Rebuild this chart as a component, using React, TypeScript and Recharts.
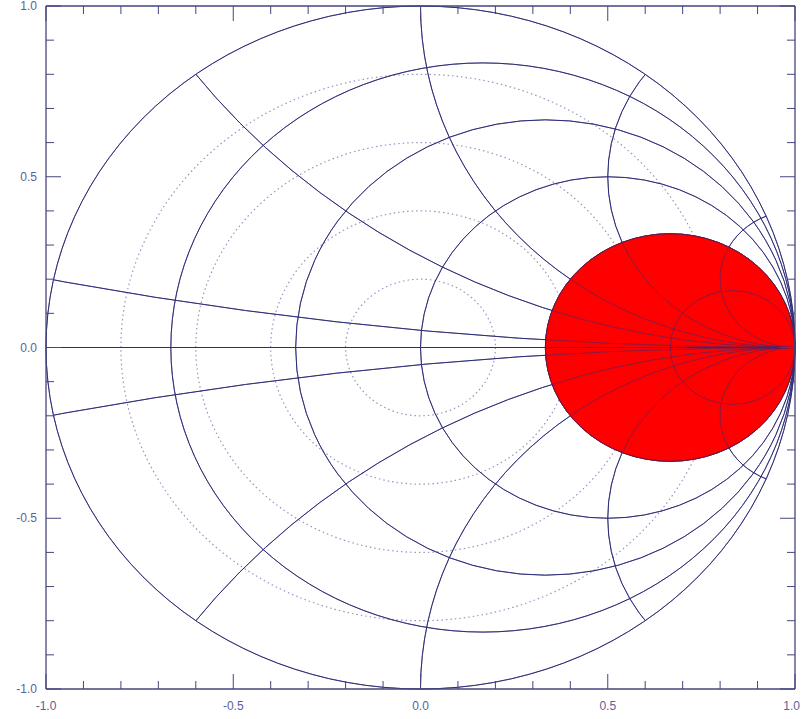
import * as Recharts from "recharts";
import { LineChart, Line, XAxis, YAxis } from "recharts";

const R: any = Recharts;

// axis ticks (every 0.1, labels every 0.5)
const axisTicks = [-1, -0.9, -0.8, -0.7, -0.6, -0.5, -0.4, -0.3, -0.2, -0.1, 0, 0.1, 0.2, 0.3, 0.4, 0.5, 0.6, 0.7, 0.8, 0.9, 1];
const labelledTicks = [-1, -0.5, 0, 0.5, 1];

// Smith chart grid values
const resistanceCircles = [0, 0.2, 0.5, 1, 2, 5];
const reactanceArcs = [0.1, 0.5, 1, 2, 5];
const swrCircles = [0.2, 0.4, 0.6, 0.8];
const highlightResistance = 2; // filled region r >= 2

const realAxis = [
  { x: -1, y: 0 },
  { x: 1, y: 0 },
];

const gridColor = "#2d2d78";
const axisColor = "#45457f";
const labelColor = "#5b6296";
const dotColor = "#9696c0";
const labelFont = "Liberation Sans, Arial, sans-serif";

const usePlot: () => any =
  R.usePlotArea ??
  (() => {
    const o = R.useOffset();
    const w = R.useChartWidth();
    const h = R.useChartHeight();
    return o && { x: o.left, y: o.top, width: w - o.left - o.right, height: h - o.top - o.bottom };
  });

const isMajor = (v: number) => labelledTicks.some((t) => Math.abs(t - v) < 1e-6);
const fmt = (v: number) => v.toFixed(1);

function BottomTick({ x, y, payload }: any) {
  const major = isMajor(payload.value);
  const last = payload.value >= 1;
  return (
    <g>
      <line x1={x} x2={x} y1={y} y2={y - (major ? 15 : 8)} stroke={axisColor} />
      {major && (
        <text
          x={last ? x + 5 : x}
          y={y + 17}
          dy="0.35em"
          textAnchor={last ? "end" : "middle"}
          fontSize={12}
          fill={labelColor}
          fontFamily={labelFont}
        >
          {fmt(payload.value)}
        </text>
      )}
    </g>
  );
}

function TopTick({ x, y, payload }: any) {
  const major = isMajor(payload.value);
  return <line x1={x} x2={x} y1={y} y2={y + (major ? 15 : 8)} stroke={axisColor} />;
}

function LeftTick({ x, y, payload }: any) {
  const major = isMajor(payload.value);
  return (
    <g>
      <line x1={x} x2={x + (major ? 15 : 8)} y1={y} y2={y} stroke={axisColor} />
      {major && (
        <text x={x - 9} y={y} dy="0.35em" textAnchor="end" fontSize={12} fill={labelColor} fontFamily={labelFont}>
          {fmt(payload.value)}
        </text>
      )}
    </g>
  );
}

function RightTick({ x, y, payload }: any) {
  const major = isMajor(payload.value);
  return <line x1={x} x2={x - (major ? 15 : 8)} y1={y} y2={y} stroke={axisColor} />;
}

function SmithGrid() {
  const plot = usePlot();
  if (!plot || !plot.width) return null;
  const kx = plot.width / 2;
  const ky = plot.height / 2;
  const px = (v: number) => plot.x + (v + 1) * kx;
  const py = (v: number) => plot.y + (1 - v) * ky;

  const circle = (cx: number, cy: number, rad: number, key: string, props: any = {}) => (
    <ellipse key={key} cx={px(cx)} cy={py(cy)} rx={rad * kx} ry={rad * ky} fill="none" {...props} />
  );

  const lines = (
    <>
      {resistanceCircles.map((r) => circle(r / (1 + r), 0, 1 / (1 + r), "r" + r))}
      <g clipPath="url(#unitClip)">
        {reactanceArcs.map((x) => circle(1, 1 / x, 1 / x, "xp" + x))}
        {reactanceArcs.map((x) => circle(1, -1 / x, 1 / x, "xn" + x))}
      </g>
      <line x1={px(-1)} x2={px(1)} y1={py(0)} y2={py(0)} />
    </>
  );

  const rh = highlightResistance;
  return (
    <g>
      <defs>
        <clipPath id="unitClip">
          <ellipse cx={px(0)} cy={py(0)} rx={kx} ry={ky} />
        </clipPath>
      </defs>
      <g stroke={dotColor} strokeWidth={1.2} strokeDasharray="1.5 3">
        {swrCircles.map((g) => circle(0, 0, g, "s" + g))}
      </g>
      <g stroke={gridColor} strokeWidth={1} fill="none">
        {lines}
      </g>
      {circle(rh / (1 + rh), 0, 1 / (1 + rh), "red", { fill: "#ff0000", stroke: "#a00018", strokeWidth: 1 })}
      <g stroke={gridColor} strokeWidth={1} fill="none" strokeOpacity={0.55}>
        {lines}
      </g>
    </g>
  );
}

const axisCommon = {
  type: "number" as const,
  domain: [-1, 1],
  ticks: axisTicks,
  interval: 0,
  tickSize: 0,
  tickMargin: 0,
  tickLine: false,
  axisLine: { stroke: axisColor, strokeWidth: 1.3 },
  allowDataOverflow: true,
};

export default function App() {
  return (
    <div style={{ position: "absolute", left: 0, top: 0, background: "#fff" }}>
      <LineChart width={801} height={719} data={realAxis} margin={{ top: 5, right: 5, bottom: 29, left: 45 }}>
        <XAxis {...axisCommon} dataKey="x" height={1} tick={BottomTick} />
        <XAxis {...axisCommon} xAxisId="top" orientation="top" dataKey="x" height={1} tick={TopTick} />
        <YAxis {...axisCommon} width={1} tick={LeftTick} />
        <YAxis {...axisCommon} yAxisId="right" orientation="right" width={1} tick={RightTick} />
        <SmithGrid />
        <Line dataKey="y" stroke={gridColor} strokeWidth={1} dot={false} isAnimationActive={false} />
      </LineChart>
    </div>
  );
}
